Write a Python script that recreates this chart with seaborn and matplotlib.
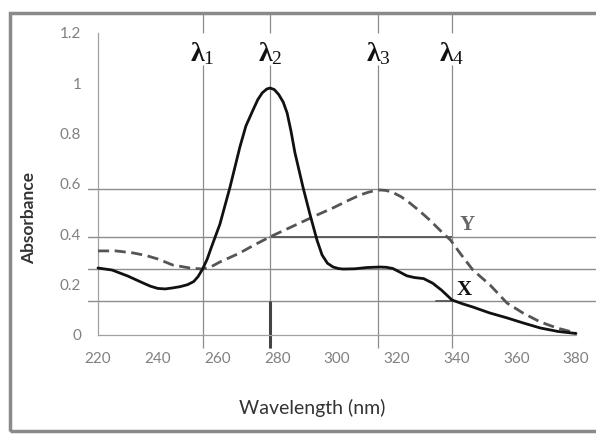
import numpy as np
import pandas as pd
import matplotlib
matplotlib.use("Agg")
import matplotlib.pyplot as plt
from matplotlib.patches import Rectangle
import seaborn as sns

# ---------------- data ----------------
x_wl = [220, 224.7, 230, 235, 237.5, 240, 242.5, 245, 247.5, 250, 252, 253.5, 255, 256.5,
        258, 260.8, 264.2, 267.5, 269.5, 271.9, 273.5, 275, 276.5, 277.6, 279, 280.5,
        282, 283.3, 284.6, 285.9, 288.6, 291, 293.3, 295, 296.8, 298.7, 300.5, 302,
        306, 310, 314.4, 316.5, 318.7, 321, 323.4, 326, 329, 332, 335, 338.5, 342,
        345.5, 351, 356.9, 362, 368, 374, 380]
x_abs = [0.266, 0.258, 0.234, 0.207, 0.194, 0.185, 0.183, 0.187, 0.192, 0.200, 0.212,
         0.232, 0.262, 0.300, 0.35, 0.44, 0.588, 0.747, 0.83, 0.894, 0.935, 0.962,
         0.977, 0.981, 0.975, 0.955, 0.925, 0.882, 0.81, 0.725, 0.588, 0.477, 0.377,
         0.318, 0.285, 0.270, 0.264, 0.262, 0.263, 0.268, 0.27, 0.269, 0.264, 0.250,
         0.235, 0.228, 0.224, 0.206, 0.178, 0.139, 0.124, 0.111, 0.088, 0.068, 0.049,
         0.028, 0.014, 0.006]

y_wl = [220, 226, 231.7, 236, 240, 245, 250.8, 255, 258, 260.8, 264, 267.5, 271.9, 277.6,
        282.5, 287.6, 293, 298.7, 303.5, 307.7, 310.5, 312.5, 314.4, 316.5, 318.7,
        321.5, 324.4, 327.5, 331, 335, 338, 341.5, 345.5, 351.2, 356.9, 362.3, 368,
        373.6, 380]
y_abs = [0.334, 0.334, 0.326, 0.316, 0.302, 0.278, 0.266, 0.262, 0.272, 0.29, 0.307,
         0.326, 0.355, 0.39, 0.417, 0.445, 0.475, 0.505, 0.533, 0.556, 0.567, 0.573,
         0.576, 0.574, 0.566, 0.549, 0.524, 0.494, 0.457, 0.41, 0.377, 0.32, 0.258,
         0.199, 0.127, 0.087, 0.052, 0.028, 0.008]

lambda_pos = [255, 277.6, 313.7, 338.5]
lambda_sub = ["1", "2", "3", "4"]
hlevels = [0.578, 0.39, 0.262, 0.135]
x_ticks = [220, 240, 260, 280, 300, 320, 340, 360, 380]
y_ticks = [0, 0.2, 0.4, 0.6, 0.8, 1, 1.2]
y_ticklabels = ["0", "0.2", "0.4", "0.6", "0.8", "1", "1.2"]

# ---------------- style ----------------
sns.set_theme(style="white")
plt.rcParams["font.family"] = ["Lato", "DejaVu Sans"]
plt.rcParams["mathtext.fontset"] = "custom"
plt.rcParams["mathtext.rm"] = "Liberation Serif"
plt.rcParams["mathtext.it"] = "Liberation Serif"
plt.rcParams["mathtext.bf"] = "Liberation Serif:bold"

W, H = 596, 434
fig = plt.figure(figsize=(W / 100, H / 100), dpi=100)
fig.patch.set_facecolor("white")
ax = fig.add_axes([88 / W, (H - 350) / H, (W - 88) / W, (350 - 14) / H])
ax.set_facecolor("none")
ax.set_xlim(216.65, 386.7)
ax.set_ylim(-0.0596, 1.275)

grid_c = "#8c8c8c"
for h in hlevels:
    ax.axhline(h, color=grid_c, lw=1.0, zorder=1)
ax.plot([lambda_pos[1], lambda_pos[3]], [hlevels[1], hlevels[1]], color="#555555", lw=1.3, zorder=1)
ax.plot([333, lambda_pos[3]], [hlevels[3], hlevels[3]], color="#555555", lw=1.3, zorder=1)

for p, sub in zip(lambda_pos, lambda_sub):
    ax.vlines(p, -0.052, 1.073, color=grid_c, lw=0.9, zorder=1)
    ax.vlines(p, 1.2, 1.275, color=grid_c, lw=0.9, zorder=1)
    ax.text(p, 1.118, "λ$_{\\mathrm{" + sub + "}}$", ha="center", va="center", fontsize=20,
            family="Liberation Serif", weight="bold", color="#111111")
ax.vlines(lambda_pos[1], -0.052, hlevels[3], color="#444444", lw=2.2, zorder=1)

dfx = pd.DataFrame({"wl": x_wl, "A": x_abs})
dfy = pd.DataFrame({"wl": y_wl, "A": y_abs})
sns.lineplot(data=dfy, x="wl", y="A", ax=ax, color="#555555", lw=2.0, zorder=3)
ax.lines[-1].set_dashes((4, 2))
sns.lineplot(data=dfx, x="wl", y="A", ax=ax, color="#111111", lw=2.0, zorder=4)
for ln in ax.lines[-2:]:
    ln.set_solid_joinstyle("round")
    ln.set_dash_joinstyle("round")

ax.text(343.5, 0.437, "Y", ha="center", va="center", fontsize=15,
        family="Liberation Serif", weight="bold", color="#666666")
ax.text(342.5, 0.179, "X", ha="center", va="center", fontsize=15,
        family="Liberation Serif", weight="bold", color="#111111")

for s in ["top", "right"]:
    ax.spines[s].set_visible(False)
ax.spines["left"].set_position(("data", 220))
ax.spines["left"].set_bounds(0, 1.2)
ax.spines["bottom"].set_position(("data", 0))
ax.spines["bottom"].set_bounds(220, 380)
for s in ["left", "bottom"]:
    ax.spines[s].set_color("#a0a0a0")
    ax.spines[s].set_linewidth(0.9)

ax.set_xticks(x_ticks)
ax.set_xticks(np.arange(220, 381, 5), minor=True)
ax.set_yticks(y_ticks)
ax.set_yticklabels(y_ticklabels)
ax.set_yticks(np.arange(0, 1.21, 0.05), minor=True)
ax.tick_params(axis="both", which="major", direction="inout", length=6, width=0.8,
               color="#a0a0a0", labelcolor="#808080", labelsize=11)
ax.tick_params(axis="both", which="minor", direction="inout", length=3.5, width=0.6,
               color="#b0b0b0")
ax.tick_params(axis="x", which="major", pad=9)
ax.tick_params(axis="y", which="major", pad=9)
ax.set_xlabel("")
ax.set_ylabel("")

fig.text(312 / W, 1 - 408 / H, "Wavelength (nm)", ha="center", va="center",
         fontsize=14, color="#333333")
fig.text(29 / W, 1 - 218 / H, "Absorbance", ha="center", va="center",
         rotation=90, fontsize=12.5, weight="bold", color="#333333")

fig.patches.append(Rectangle((10 / W, 3 / H), 1.2, 1 - 16 / H, transform=fig.transFigure,
                             fill=False, edgecolor="#8a8a8a", lw=2.5))

fig.savefig("out.png", dpi=100)
